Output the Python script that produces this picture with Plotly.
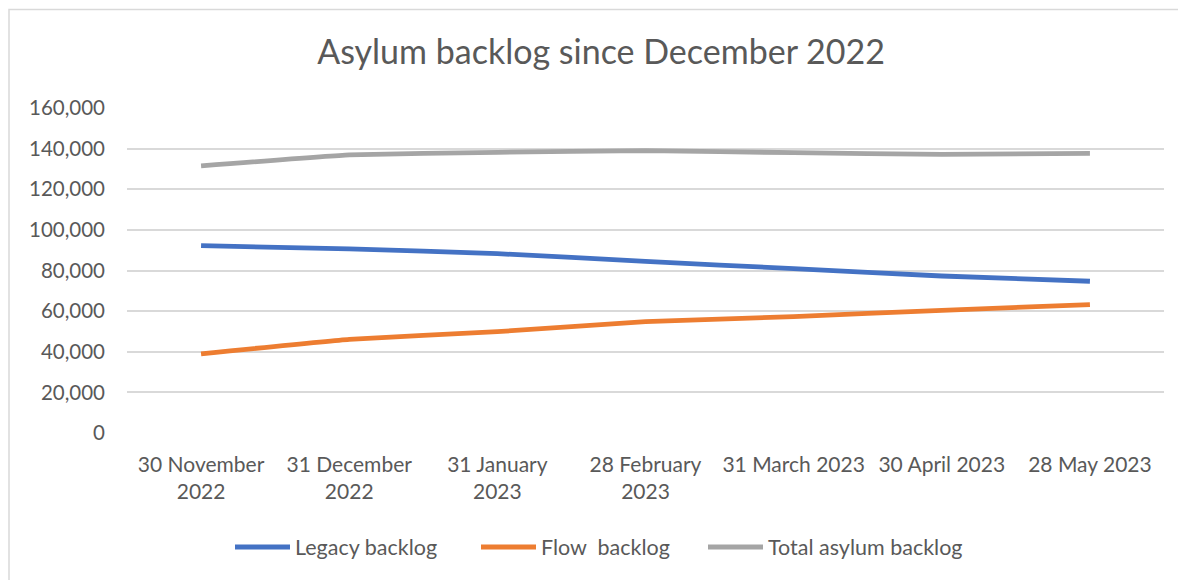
import plotly.graph_objects as go

categories = ["30 November<br>2022", "31 December<br>2022", "31 January<br>2023",
              "28 February<br>2023", "31 March 2023", "30 April 2023", "28 May 2023"]
legacy = [92200, 90600, 88300, 84500, 80900, 77300, 74700]
flow = [39000, 46100, 49900, 54800, 57300, 60400, 63200]
total = [131500, 136900, 138200, 139000, 138000, 137200, 137700]
y_ticks = [0, 20000, 40000, 60000, 80000, 100000, 120000, 140000, 160000]
y_labels = ["0", "20,000", "40,000", "60,000", "80,000", "100,000", "120,000", "140,000", "160,000"]

FONT = "Lato"
GREY_TEXT = "#595959"

OFF = 8  # page body margin
W, H = 1186 - OFF, 580 - OFF
L, T = 127 - OFF, 108 - OFF
R = W - (1164 - OFF)
B = H - (433 - OFF)
pw, ph = W - L - R, H - T - B

def px(x):
    return (x - OFF - L) / pw

def py(y):
    return (H - B - (y - OFF)) / ph

fig = go.Figure()
series = [("Legacy backlog", legacy, "#4472C4", "legend", 237),
          ("Flow  backlog", flow, "#ED7D31", "legend2", 483),
          ("Total asylum backlog", total, "#A5A5A5", "legend3", 710)]
legends = {}
for name, vals, col, lg, lx in series:
    fig.add_trace(go.Scatter(x=categories, y=vals, mode="lines", name=name, legend=lg,
                             showlegend=True,
                             line=dict(color=col, width=4.8, shape="spline", smoothing=0.3)))
    legends[lg] = dict(orientation="h", x=px(lx - 7), xanchor="left",
                       y=py(547), yanchor="middle",
                       font=dict(size=21.5, color=GREY_TEXT), itemwidth=55,
                       bgcolor="rgba(0,0,0,0)")

fig.update_layout(
    width=W, height=H,
    margin=dict(l=L, r=R, t=T, b=B),
    paper_bgcolor="white", plot_bgcolor="white",
    showlegend=True,
    font=dict(family=FONT, color=GREY_TEXT, size=20),
    title=dict(text="Asylum backlog since December 2022", x=px(601), xref="paper",
               xanchor="center", y=1 - (52 - OFF) / H, yanchor="middle",
               font=dict(family=FONT, size=34, color=GREY_TEXT)),
    xaxis=dict(type="category", range=[-0.5, 6.5], showgrid=False, zeroline=False,
               showline=False, ticks="", tickfont=dict(size=21, color=GREY_TEXT),
               tickangle=0, ticklabelstandoff=17),
    yaxis=dict(range=[0, 160000], tickvals=y_ticks, ticktext=y_labels,
               showgrid=True, gridcolor="#D9D9D9", gridwidth=1.5, zeroline=False,
               showline=False, ticks="", ticklabelstandoff=21,
               tickfont=dict(size=20.5, color=GREY_TEXT)),
    shapes=[dict(type="rect", xref="paper", yref="paper",
                 x0=px(9), x1=px(1200),
                 y0=py(600), y1=py(9.5),
                 line=dict(color="#D9D9D9", width=1.5), fillcolor="rgba(0,0,0,0)",
                 layer="below")],
    **legends,
)

fig.write_html("out.html")
